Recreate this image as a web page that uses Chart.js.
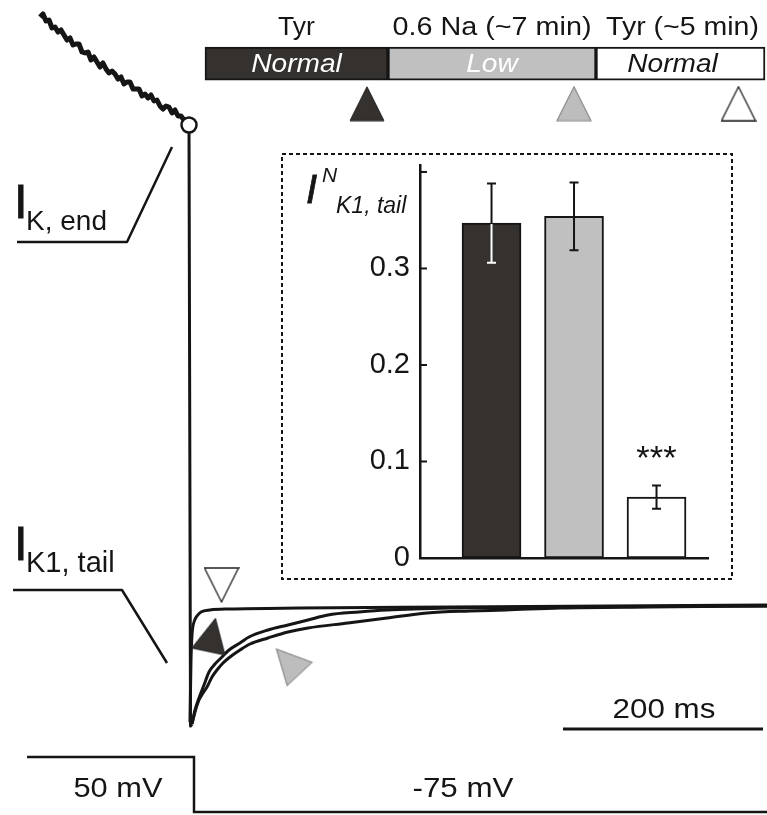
<!DOCTYPE html>
<html><head><meta charset="utf-8">
<script src="https://cdn.jsdelivr.net/npm/chart.js@4.4.0/dist/chart.umd.min.js"></script>
<style>
html,body{margin:0;padding:0;background:#fff;}
#wrap{position:relative;width:767px;height:815px;overflow:hidden;background:#fff;}
canvas{position:absolute;}
#main{left:0;top:0;}
#head{left:200px;top:0;}
#inset{left:281px;top:153px;}
</style></head><body>
<div id="wrap">
<canvas id="main" width="767" height="815"></canvas>
<canvas id="head" width="567" height="130"></canvas>
<canvas id="inset" width="452" height="427"></canvas>
</div>
<script>
// ---------------- DATA (time in ms relative to the repolarising step, current in nA, voltage in mV) ----------------
// end of the +50 mV step (noisy I_K trace)
const preTime = [-150,-147,-144,-141,-138,-135,-132,-129,-126,-123,-120,-117,-114,-111,-108,-105,-102,-99,-96,-93,-90,-87,-84,-81,-78,-75,-72,-69,-66,-63,-60,-57,-54,-51,-48,-45,-42,-39,-36,-33,-30,-27,-24,-21,-18,-15,-12,-9,-6,-2];
const preCurrent = [5.88,5.91,5.84,5.85,5.77,5.78,5.73,5.75,5.70,5.65,5.67,5.60,5.61,5.61,5.53,5.52,5.53,5.45,5.48,5.43,5.38,5.42,5.36,5.32,5.34,5.31,5.26,5.28,5.21,5.23,5.23,5.16,5.16,5.16,5.09,5.11,5.07,5.10,5.04,5.05,4.99,4.96,4.99,4.98,4.92,4.95,4.89,4.89,4.85,4.80];
// I_K,end sample (open circle)
const endTime = [-1];
const endCurrent = [4.80];
// capacitive/step transient
const transTime = [-1, 0.5, 2];
const transCurrent = [4.80, -1.21, -1.19];
// I_K1 tail currents at -75 mV
const tailTimeNormal = [2,5,9,14,19,25,32,39,50,59,78,98,118,138,169,197,260,360,577];
const tailCurrentNormal = [-1.19,-1.05,-0.93,-0.80,-0.67,-0.59,-0.52,-0.45,-0.38,-0.32,-0.25,-0.20,-0.15,-0.10,-0.07,-0.05,-0.03,-0.02,-0.01];
const tailTimeLowNa = [2,5,9,13,17,22,27,33,40,50,60,78,98,118,158,197,237,280,316,370,460,577];
const tailCurrentLowNa = [-1.19,-1.07,-0.95,-0.88,-0.82,-0.72,-0.65,-0.58,-0.52,-0.45,-0.39,-0.33,-0.27,-0.23,-0.18,-0.13,-0.08,-0.06,-0.05,-0.03,-0.02,-0.01];
const tailTimeWash = [0,1,2,4,7,11,20,40,110,260,577];
const tailCurrentWash = [-1.17,-0.55,-0.30,-0.17,-0.11,-0.07,-0.05,-0.04,-0.03,-0.02,0.00];
// markers pointing at the traces (white: wash, dark: normal, gray: low Na)
const traceMarkTime = [31.5, 22, 98];
const traceMarkCurrent = [0.20, -0.30, -0.565];
// voltage protocol
const protoTime = [-163, 4, 4, 577];
const protoVoltage = [50, 50, -75, -75];
const protoLevelLabels = ['50 mV', '-75 mV'];
// scale bar (200 ms)
const scaleBarTime = [373, 573];
const scaleBarCurrent = [-1.24, -1.24];
const scaleBarLabel = '200 ms';
// label leader lines
const leaderEndTime = [-173, -63, -18];
const leaderEndCurrent = [3.63, 3.63, 4.58];
const leaderTailTime = [-177, -68, -23];
const leaderTailCurrent = [0.15, 0.15, -0.58];

// solution protocol bar
const solutionTitles = ['Tyr', '0.6 Na (~7 min)', 'Tyr (~5 min)'];
const solutionLabels = ['Normal', 'Low', 'Normal'];
const solutionBounds = [0, 183, 391, 560];
const solutionMarks = [162, 369, 533.5];

// inset bar chart: normalised I_K1,tail
const conditions = ['Tyr Normal', '0.6 Na Low', 'Tyr Normal (~5 min)'];
const barValues = [0.347, 0.354, 0.063];
const barErrors = [0.041, 0.035, 0.012];
const yTickValues = [0, 0.1, 0.2, 0.3, 0.4];
const yTickLabels = ['0', '0.1', '0.2', '0.3', ''];
const significance = ['', '', '***'];

// ---------------- STYLE ----------------
const FONT = '"Liberation Sans", Arial, Helvetica, sans-serif';
Chart.defaults.font.family = FONT;
const INK = '#151515', DARK = '#34312e', GRAY = '#c0c0c0', WHITE = '#ffffff';
const condColors = [DARK, GRAY, WHITE];
const errLowerColors = ['#ffffff', INK, INK];

function drawText(ctx, txt, x, y, o) {
  ctx.save();
  ctx.font = (o.italic ? 'italic ' : '') + o.size + 'px ' + FONT;
  ctx.fillStyle = o.color || INK;
  ctx.textBaseline = 'alphabetic';
  ctx.textAlign = o.align || 'left';
  ctx.translate(x, y);
  ctx.scale(o.stretch || 1, 1);
  ctx.fillText(txt, 0, 0);
  if (o.stroke) { ctx.strokeStyle = o.color || INK; ctx.lineWidth = o.stroke; ctx.strokeText(txt, 0, 0); }
  ctx.restore();
}
function triangle(fill, stroke, lw) {
  const c = document.createElement('canvas');
  c.width = 36; c.height = 36;
  const g = c.getContext('2d');
  g.beginPath(); g.moveTo(18, 1); g.lineTo(35, 35); g.lineTo(1, 35); g.closePath();
  g.fillStyle = fill; g.fill();
  g.lineWidth = lw; g.strokeStyle = stroke; g.lineJoin = 'miter'; g.stroke();
  return c;
}
const triDark = triangle(DARK, '#222', 1);
const triGray = triangle('#bdbdbd', '#8c8c8c', 1.2);
const triWhite = triangle('#fff', '#222', 1.3);

const xy = (ts, vs) => ts.map((t, i) => ({x: t, y: vs[i]}));
const lineDs = (data, w, extra) => Object.assign({type: 'line', data, borderColor: INK, borderWidth: w,
  pointRadius: 0, fill: false, tension: 0, order: 5, borderJoinStyle: 'round'}, extra || {});
const common = {responsive: false, animation: false, events: [],
  plugins: {legend: {display: false}, tooltip: {enabled: false}}};

// ---------------- MAIN TRACES ----------------
const mainText = {
  id: 'mainText',
  afterDraw(chart) {
    const {ctx, scales: {x, y}} = chart;
    const P = (t, i) => [x.getPixelForValue(t), y.getPixelForValue(i)];
    let p;
    p = P(-176, 3.87); drawText(ctx, 'I', p[0], p[1], {size: 49, stroke: 0.8});
    p = P(-164, 3.75); drawText(ctx, 'K, end', p[0], p[1], {size: 28});
    p = P(-176, 0.45); drawText(ctx, 'I', p[0], p[1], {size: 49, stroke: 0.8});
    p = P(-164, 0.33); drawText(ctx, 'K1, tail', p[0], p[1], {size: 29});
    p = P((scaleBarTime[0] + scaleBarTime[1]) / 2 + 1, scaleBarCurrent[0] + 0.11);
    drawText(ctx, scaleBarLabel, p[0], p[1], {size: 28, align: 'center', stretch: 1.12});
    p = P(-72, -1.92); drawText(ctx, protoLevelLabels[0], p[0], p[1], {size: 28, align: 'center', stretch: 1.1});
    p = P(273, -1.92); drawText(ctx, protoLevelLabels[1], p[0], p[1], {size: 28, align: 'center', stretch: 1.12});
  }
};

new Chart(document.getElementById('main'), {
  type: 'line',
  data: {datasets: [
    {type: 'scatter', data: xy(endTime, endCurrent), pointRadius: 7.5, pointBackgroundColor: '#fff',
     pointBorderColor: INK, pointBorderWidth: 2.5, order: 0},
    {type: 'scatter', data: xy(traceMarkTime, traceMarkCurrent), pointStyle: [triWhite, triDark, triGray],
     rotation: [180, 12, -43], pointRotation: [180, 12, -43], pointRadius: 5, order: 1},
    lineDs(xy(preTime, preCurrent), 5),
    lineDs(xy(transTime, transCurrent), 3),
    lineDs(xy(tailTimeLowNa, tailCurrentLowNa), 3, {cubicInterpolationMode: 'monotone'}),
    lineDs(xy(tailTimeNormal, tailCurrentNormal), 3, {cubicInterpolationMode: 'monotone'}),
    lineDs(xy(tailTimeWash, tailCurrentWash), 3, {cubicInterpolationMode: 'monotone'}),
    lineDs(xy(leaderEndTime, leaderEndCurrent), 2.5),
    lineDs(xy(leaderTailTime, leaderTailCurrent), 2.5),
    lineDs(xy(scaleBarTime, scaleBarCurrent), 3),
    lineDs(xy(protoTime, protoVoltage), 2.5, {yAxisID: 'yV', borderJoinStyle: 'miter'})
  ]},
  options: Object.assign({}, common, {
    layout: {padding: 0, autoPadding: false},
    scales: {
      x: {type: 'linear', min: -190, max: 577, display: false, offset: false},
      y: {type: 'linear', min: -2.1, max: 6.05, display: false, offset: false},
      yV: {type: 'linear', min: -81.82, max: 1770.45, display: false, offset: false}
    }
  }),
  plugins: [mainText]
});

// ---------------- SOLUTION PROTOCOL BAR ----------------
const BAR_ROW = 0.4896, MARK_ROW = 0.7977;
const headText = {
  id: 'headText',
  afterDatasetsDraw(chart) {
    const ctx = chart.ctx;
    const meta = chart.getDatasetMeta(1);
    const labelColors = ['#ffffff', '#ffffff', INK];
    const titleStretch = [1.06, 1.15, 1.14];
    meta.data.forEach((bar, i) => {
      const cx = (bar.x + bar.base) / 2;
      drawText(ctx, solutionLabels[i], cx + (i === 2 ? -8 : 0), bar.y + 8.3, {size: 26, italic: true, color: labelColors[i], align: 'center', stretch: 1.08});
      drawText(ctx, solutionTitles[i], cx + (i === 2 ? 2 : 0), bar.y - 28.7, {size: 25, align: 'center', stretch: titleStretch[i]});
    });
  }
};
new Chart(document.getElementById('head'), {
  type: 'bar',
  data: {datasets: [
    {type: 'scatter', data: solutionMarks.map(v => ({x: v, y: MARK_ROW})), pointStyle: [triDark, triGray, triWhite],
     pointRadius: 5, order: 0},
    {type: 'bar', indexAxis: 'y', data: solutionLabels.map((l, i) => ({x: [solutionBounds[i], solutionBounds[i + 1]], y: BAR_ROW})),
     backgroundColor: condColors, borderColor: INK, borderWidth: 2, borderSkipped: false, barThickness: 33, order: 1}
  ]},
  options: Object.assign({}, common, {
    layout: {padding: 0, autoPadding: false},
    scales: {
      x: {type: 'linear', min: -5, max: 562, display: false, offset: false},
      y: {type: 'linear', min: 0, max: 1, reverse: true, display: false, offset: false}
    }
  }),
  plugins: [headText]
});

// ---------------- INSET BAR CHART ----------------
const insetPlugin = {
  id: 'insetPlugin',
  afterDatasetsDraw(chart) {
    const {ctx, scales: {x, y}} = chart;
    ctx.save();
    ctx.lineWidth = 2;
    barValues.forEach((v, i) => {
      const px = x.getPixelForValue(i + 1);
      const top = y.getPixelForValue(v + barErrors[i]);
      const mid = y.getPixelForValue(v);
      const bot = y.getPixelForValue(v - barErrors[i]);
      ctx.strokeStyle = INK;
      ctx.beginPath(); ctx.moveTo(px, mid); ctx.lineTo(px, top);
      ctx.moveTo(px - 4.5, top); ctx.lineTo(px + 4.5, top); ctx.stroke();
      ctx.strokeStyle = errLowerColors[i];
      ctx.beginPath(); ctx.moveTo(px, mid + 1); ctx.lineTo(px, bot);
      ctx.moveTo(px - 4.5, bot); ctx.lineTo(px + 4.5, bot); ctx.stroke();
      if (significance[i]) drawText(ctx, significance[i], px, top - 17, {size: 33, align: 'center', stretch: 1.05});
    });
    ctx.restore();
  },
  afterDraw(chart) {
    const {ctx, chartArea, scales: {y}} = chart;
    ctx.save();
    ctx.strokeStyle = INK; ctx.lineWidth = 2;
    yTickValues.forEach(v => {
      const py = y.getPixelForValue(v);
      ctx.beginPath(); ctx.moveTo(chartArea.left, py); ctx.lineTo(chartArea.left + 7, py); ctx.stroke();
    });
    ctx.setLineDash([4, 3]); ctx.lineWidth = 2;
    ctx.strokeRect(1, 1, chart.width - 2, chart.height - 2);
    ctx.restore();
    drawText(ctx, 'I', 25, 50, {size: 40, italic: true, stroke: 0.8});
    drawText(ctx, 'N', 41, 29, {size: 21, italic: true});
    drawText(ctx, 'K1, tail', 55, 60, {size: 23, italic: true});
  }
};
new Chart(document.getElementById('inset'), {
  type: 'bar',
  data: {labels: conditions, datasets: [{
    data: barValues.map((v, i) => ({x: i + 1, y: v})),
    backgroundColor: condColors, borderColor: INK, borderWidth: 2, borderSkipped: false, barThickness: 59
  }]},
  options: Object.assign({}, common, {
    layout: {padding: {top: 12.2, right: 25, bottom: 22, left: 0}, autoPadding: false},
    scales: {
      x: {type: 'linear', min: 0.133, max: 3.624, offset: false, grid: {display: false, drawTicks: false},
          ticks: {display: false}, border: {display: true, color: INK, width: 2.5}},
      y: {type: 'linear', min: 0, max: 0.407, offset: false,
          afterBuildTicks: s => { s.ticks = yTickValues.map(v => ({value: v})); },
          afterFit: s => { s.width = 139; s.paddingTop = 0; s.paddingBottom = 0; },
          ticks: {callback: (v, i) => yTickLabels[i], font: {size: 29}, color: INK, padding: 10},
          grid: {display: false, drawTicks: false}, border: {display: true, color: INK, width: 2.5}}
    }
  }),
  plugins: [insetPlugin]
});
</script>
</body></html>
